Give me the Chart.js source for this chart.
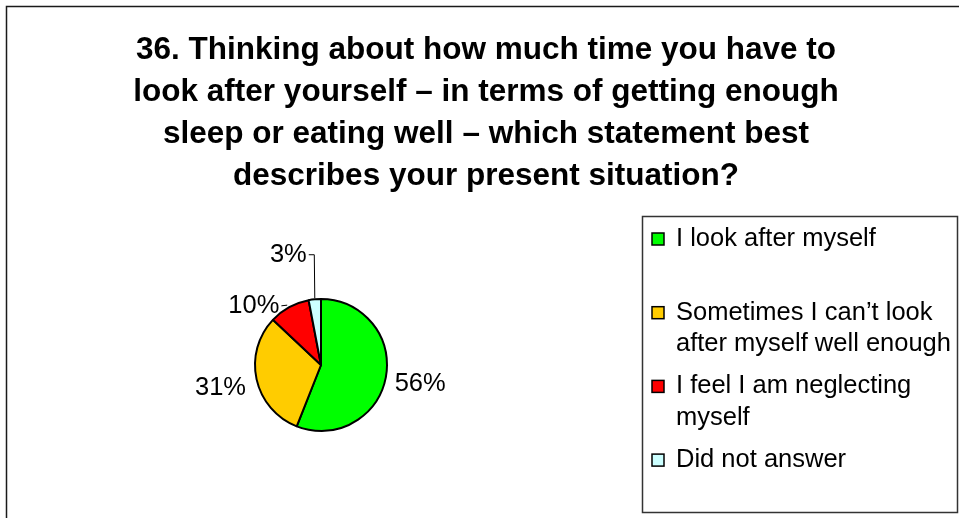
<!DOCTYPE html>
<html>
<head>
<meta charset="utf-8">
<script src="https://cdn.jsdelivr.net/npm/chart.js@4.4.1/dist/chart.umd.min.js"></script>
<style>
  html, body { margin: 0; padding: 0; background: #ffffff; }
  #wrap { position: relative; width: 959px; height: 518px; }
</style>
</head>
<body>
<div id="wrap"><canvas id="c" width="959" height="518"></canvas></div>
<script>
// ---- data ----
const categories = [
  "I look after myself",
  "Sometimes I can\u2019t look after myself well enough",
  "I feel I am neglecting myself",
  "Did not answer"
];
const legendLines = [
  ["I look after myself"],
  ["Sometimes I can\u2019t look", "after myself well enough"],
  ["I feel I am neglecting", "myself"],
  ["Did not answer"]
];
const percentValues = [56, 31, 10, 3];
const sliceColors = ["#00FF00", "#FFCC00", "#FF0000", "#CCFFFF"];
const titleLines = [
  "36. Thinking about how much time you have to",
  "look after yourself \u2013 in terms of getting enough",
  "sleep or eating well \u2013 which statement best",
  "describes your present situation?"
];

const FONT = "'Liberation Sans', Arial, Helvetica, sans-serif";

// label placement (style only): distance from centre, optional angle override (deg, clockwise from 12 o'clock)
const labelPlacement = [
  { dist: 101 },
  { dist: 103 },
  { dist: 89.5, angle: 311.4, leader: true },
  { dist: 115, angle: 343.5, leader: true }
];

const decorPlugin = {
  id: 'decor',
  beforeDraw(chart) {
    const ctx = chart.ctx;
    ctx.save();
    // outer frame (top + left visible)
    ctx.strokeStyle = '#1a1a1a';
    ctx.lineWidth = 1.5;
    ctx.beginPath();
    ctx.moveTo(6.5, 520);
    ctx.lineTo(6.5, 6.5);
    ctx.lineTo(962, 6.5);
    ctx.stroke();
    // title
    ctx.fillStyle = '#000';
    ctx.font = "bold 31.5px " + FONT;
    ctx.textAlign = 'center';
    ctx.textBaseline = 'alphabetic';
    titleLines.forEach((t, i) => ctx.fillText(t, 486, 59 + i * 42));
    ctx.restore();
  },
  afterDraw(chart) {
    const ctx = chart.ctx;
    const meta = chart.getDatasetMeta(0);
    ctx.save();
    // data labels
    ctx.font = "25.5px " + FONT;
    ctx.fillStyle = '#000';
    ctx.textAlign = 'center';
    ctx.textBaseline = 'middle';
    meta.data.forEach((arc, i) => {
      const p = arc.getProps(['x', 'y', 'startAngle', 'endAngle', 'outerRadius'], true);
      const mid = (p.startAngle + p.endAngle) / 2;
      const place = labelPlacement[i];
      const ang = place.angle !== undefined ? (place.angle - 90) * Math.PI / 180 : mid;
      const lx = p.x + Math.cos(ang) * place.dist;
      const ly = p.y + Math.sin(ang) * place.dist;
      const txt = Math.round(chart.data.datasets[0].data[i]) + '%';
      ctx.fillText(txt, lx, ly);
      if (place.leader) {
        const w = ctx.measureText(txt).width;
        const ax = p.x + Math.cos(mid) * p.outerRadius;
        const ay = p.y + Math.sin(mid) * p.outerRadius;
        const sx = lx + w / 2 + 2;
        ctx.strokeStyle = '#000';
        ctx.lineWidth = 1;
        ctx.beginPath();
        if (i === 3) {
          ctx.moveTo(sx, ly);
          ctx.lineTo(ax - 0.5, ly);
          ctx.lineTo(ax, ay - 1);
        } else {
          ctx.moveTo(sx, ly);
          ctx.lineTo(ax - 2, ay - 2);
        }
        ctx.stroke();
      }
    });
    // legend box
    ctx.strokeStyle = '#333';
    ctx.lineWidth = 1.5;
    ctx.strokeRect(642.5, 216.5, 315, 296);
    ctx.font = "25.5px " + FONT;
    ctx.textAlign = 'left';
    ctx.textBaseline = 'alphabetic';
    legendLines.forEach((lines, i) => {
      const base = 246 + i * 73.7;
      ctx.fillStyle = sliceColors[i];
      ctx.fillRect(652, base - 13, 12, 12);
      ctx.strokeStyle = '#000';
      ctx.lineWidth = 1.5;
      ctx.strokeRect(652, base - 13, 12, 12);
      ctx.fillStyle = '#000';
      lines.forEach((ln, j) => ctx.fillText(ln, 676, base + j * 31.5));
    });
    ctx.restore();
  }
};

new Chart(document.getElementById('c'), {
  type: 'pie',
  data: {
    labels: categories,
    datasets: [{
      data: percentValues,
      backgroundColor: sliceColors,
      borderColor: '#000000',
      borderWidth: 2
    }]
  },
  options: {
    responsive: false,
    animation: false,
    devicePixelRatio: 1,
    layout: { padding: { left: 254, right: 571, top: 298, bottom: 86 } },
    plugins: {
      legend: { display: false },
      title: { display: false },
      tooltip: { enabled: false }
    }
  },
  plugins: [decorPlugin]
});
</script>
</body>
</html>
